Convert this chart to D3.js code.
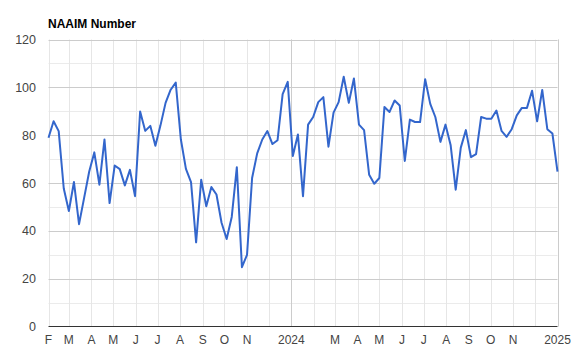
<!DOCTYPE html>
<html>
<head>
<meta charset="utf-8">
<script src="https://cdn.jsdelivr.net/npm/d3@7"></script>
<style>
  body { margin: 0; background: #fff; }
  svg { display: block; font-family: Arial, "Liberation Sans", sans-serif; }
</style>
</head>
<body>
<svg id="chart" width="585" height="352"></svg>
<script>
// NAAIM exposure index, weekly (Wednesdays) from 2023-02-01 to 2025-01-01
const firstWeek = "2023-02-01";
const naaimValues = [
  78.9, 85.8, 81.7, 57.7, 48.3, 60.4, 42.8, 53.8, 64.8, 72.8,
  59.3, 78.2, 51.6, 67.3, 65.8, 59.0, 65.5, 54.5, 89.9, 81.8,
  83.9, 75.6, 84.1, 93.5, 99.0, 102.0, 78.3, 65.9, 60.4, 35.2,
  61.4, 50.3, 58.3, 55.2, 43.4, 36.6, 45.8, 66.6, 24.8, 29.9,
  62.1, 72.4, 78.2, 81.7, 76.3, 77.9, 97.2, 102.3, 71.3, 80.3,
  54.5, 84.4, 87.6, 93.8, 95.9, 75.2, 89.4, 93.8, 104.4, 93.5,
  103.7, 84.4, 82.1, 63.4, 59.7, 62.1, 91.8, 89.7, 94.5, 92.4,
  69.2, 86.5, 85.5, 85.5, 103.4, 93.1, 87.6, 77.2, 84.4, 75.9,
  57.2, 74.8, 82.1, 70.8, 72.1, 87.6, 86.9, 86.9, 90.3, 81.8,
  79.3, 82.5, 88.3, 91.4, 91.4, 98.6, 85.8, 98.9, 82.5, 80.7,
  64.8
];

// month gridlines and their labels ("" = gridline without label)
const monthTicks = [
  "2023-02-01", "2023-03-01", "2023-04-01", "2023-05-01", "2023-06-01", "2023-07-01",
  "2023-08-01", "2023-09-01", "2023-10-01", "2023-11-01", "2023-12-01", "2024-01-01",
  "2024-02-01", "2024-03-01", "2024-04-01", "2024-05-01", "2024-06-01", "2024-07-01",
  "2024-08-01", "2024-09-01", "2024-10-01", "2024-11-01", "2024-12-01", "2025-01-01"
];
const monthLabels = [
  "F", "M", "A", "M", "J", "J", "A", "S", "O", "N", "", "2024",
  "", "M", "A", "M", "J", "J", "A", "S", "O", "N", "", "2025"
];
const yearTicks = ["2024-01-01", "2025-01-01"];
const yTicks = [0, 20, 40, 60, 80, 100, 120];
const yMinorTicks = [10, 30, 50, 70, 90, 110];

const parse = d3.utcParse("%Y-%m-%d");
const start = parse(firstWeek);
const data = naaimValues.map((v, i) => ({ date: d3.utcDay.offset(start, 7 * i), value: v }));

const margin = { left: 48.5, right: 557.5, top: 39.5, bottom: 326.5 };

const x = d3.scaleUtc()
  .domain([parse(monthTicks[0]), parse(monthTicks[monthTicks.length - 1])])
  .range([margin.left, margin.right]);
const y = d3.scaleLinear()
  .domain([0, 120])
  .range([margin.bottom, margin.top]);

const svg = d3.select("#chart");

// minor horizontal grid
svg.append("g")
  .selectAll("line")
  .data(yMinorTicks)
  .join("line")
    .attr("x1", margin.left).attr("x2", margin.right)
    .attr("y1", d => Math.round(y(d)) + 0.5).attr("y2", d => Math.round(y(d)) + 0.5)
    .attr("stroke", "#ebebeb");

// month gridlines
svg.append("g")
  .selectAll("line")
  .data(monthTicks)
  .join("line")
    .attr("x1", d => Math.round(x(parse(d))) + 0.5).attr("x2", d => Math.round(x(parse(d))) + 0.5)
    .attr("y1", margin.top).attr("y2", margin.bottom)
    .attr("stroke", "#e6e6e6");

// major horizontal grid
svg.append("g")
  .selectAll("line")
  .data(yTicks.slice(1))
  .join("line")
    .attr("x1", margin.left).attr("x2", margin.right)
    .attr("y1", d => Math.round(y(d)) + 0.5).attr("y2", d => Math.round(y(d)) + 0.5)
    .attr("stroke", "#cccccc");

// year lines
svg.append("g")
  .selectAll("line")
  .data(yearTicks)
  .join("line")
    .attr("x1", d => Math.round(x(parse(d))) + 0.5).attr("x2", d => Math.round(x(parse(d))) + 0.5)
    .attr("y1", margin.top).attr("y2", margin.bottom)
    .attr("stroke", "#cccccc");

// baseline
svg.append("line")
  .attr("x1", margin.left).attr("x2", margin.right)
  .attr("y1", y(0)).attr("y2", y(0))
  .attr("stroke", "#333333");

// y labels
svg.append("g")
  .selectAll("text")
  .data(yTicks)
  .join("text")
    .attr("x", 36)
    .attr("y", d => y(d))
    .attr("dy", "0.36em")
    .attr("text-anchor", "end")
    .attr("font-size", 12.5)
    .attr("fill", "#444")
    .text(d => d);

// x labels
svg.append("g")
  .selectAll("text")
  .data(monthTicks)
  .join("text")
    .attr("x", d => x(parse(d)))
    .attr("y", 344)
    .attr("text-anchor", "middle")
    .attr("font-size", 12)
    .attr("fill", "#444")
    .text((d, i) => monthLabels[i]);

// series
const line = d3.line()
  .x(d => x(d.date))
  .y(d => y(d.value));

svg.append("path")
  .datum(data)
  .attr("d", line)
  .attr("fill", "none")
  .attr("stroke", "#3366cc")
  .attr("stroke-width", 2)
  .attr("stroke-linejoin", "round");

// title
svg.append("text")
  .attr("x", 48)
  .attr("y", 28)
  .attr("font-size", 12)
  .attr("font-weight", "bold")
  .attr("fill", "#000")
  .text("NAAIM Number");
</script>
</body>
</html>
